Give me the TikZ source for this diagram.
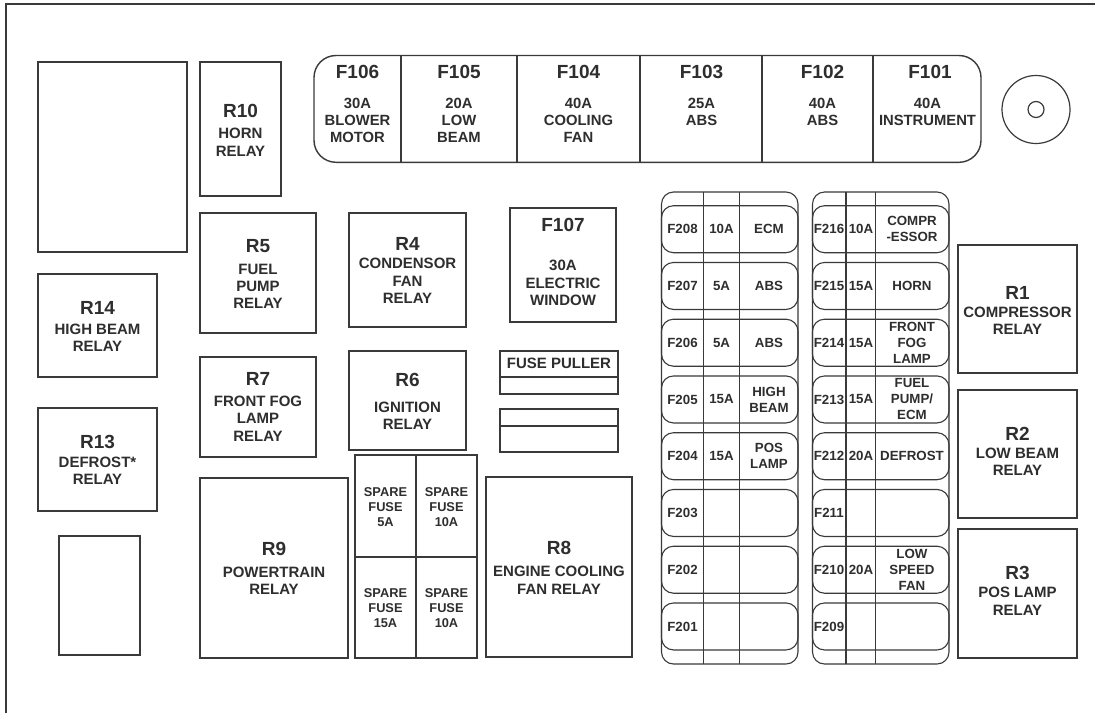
\documentclass[tikz,border=0pt]{standalone}
\usepackage{fontspec}
\setmainfont{Liberation Sans}
\definecolor{lc}{HTML}{3A3A3A}
\definecolor{tc}{HTML}{2E2E2E}
\newcommand\relaybox[9]{%
  \draw[box] (#2,#3) rectangle (#4,#5);
  \node[ttl] (#1t) at ({(#2+#4)/2},#7) {#6};
  \node[sub] (#1s) at ({(#2+#4)/2},#9) {#8};}
\begin{document}
\begin{tikzpicture}[x=1pt,y=-1pt,
  box/.style={draw=lc,line width=1.4pt},
  thinln/.style={draw=lc,line width=1.1pt},
  ttl/.style={inner sep=0pt,text=tc,font=\bfseries\fontsize{19}{19}\selectfont},
  sub/.style={inner sep=0pt,text=tc,align=center,font=\bfseries\fontsize{15}{17.3}\selectfont},
  fsub/.style={inner sep=0pt,text=tc,align=center,font=\bfseries\fontsize{14.8}{17}\selectfont},
  fb/.style={inner sep=0pt,text=tc,align=center,font=\bfseries\fontsize{13.3}{16}\selectfont},
  sp/.style={inner sep=0pt,text=tc,align=center,font=\bfseries\fontsize{12.8}{15}\selectfont}]
\useasboundingbox (0,0) rectangle (1095,713);
\fill[white] (0,0) rectangle (1095,713);
% outer border
\draw[draw=lc,line width=2.6pt] (6,713) -- (6,4) -- (1095,4);
% empty boxes
\draw[box] (38,62) rectangle (187,252);
\draw[box] (59,536) rectangle (140,655);
% relays
\relaybox{r10}{200}{62}{281}{196}{R10}{110.7}{HORN\\RELAY}{142.2}
\relaybox{r5}{200}{213}{316}{333}{R5}{245.7}{FUEL\\PUMP\\RELAY}{286.3}
\relaybox{r14}{38}{274}{157}{377}{R14}{307.7}{HIGH BEAM\\RELAY}{337.7}
\relaybox{r7}{200}{357}{316}{457}{R7}{379.3}{FRONT FOG\\LAMP\\RELAY}{418.5}
\relaybox{r13}{38}{408}{157}{511}{R13}{442.3}{DEFROST*\\RELAY}{471}
\relaybox{r9}{200}{478}{348}{658}{R9}{549.3}{POWERTRAIN\\RELAY}{581}
\relaybox{r8}{486}{477}{632}{657}{R8}{548.3}{ENGINE COOLING\\FAN RELAY}{580.2}
\relaybox{r4}{349}{213}{466}{327}{R4}{243.7}{CONDENSOR\\FAN\\RELAY}{280.8}
\relaybox{r6}{349}{351}{466}{450}{R6}{380}{IGNITION\\RELAY}{415.8}
\relaybox{f107}{510}{208}{616}{322}{F107}{225}{30A\\ELECTRIC\\WINDOW}{283}
\relaybox{r1}{958}{245}{1077}{373}{R1}{293.3}{COMPRESSOR\\RELAY}{320.7}
\relaybox{r2}{958}{390}{1077}{518}{R2}{434}{LOW BEAM\\RELAY}{462}
\relaybox{r3}{958}{529}{1077}{658}{R3}{573.3}{POS LAMP\\RELAY}{601.3}
% fuse puller
\draw[box] (500,351) rectangle (618,394);
\draw[box] (500,377) -- (618,377);
\node[sub] (puller) at (559,363) {FUSE PULLER};
\draw[box] (500,409) rectangle (618,452);
\draw[box] (500,426) -- (618,426);
% spare fuses
\draw[box] (355,455) rectangle (477,658);
\draw[box] (416,455) -- (416,658);
\draw[box] (355,557) -- (477,557);
\node[sp] (sp1) at (385.5,506.7) {SPARE\\FUSE\\5A};
\node[sp] (sp2) at (446.5,506.7) {SPARE\\FUSE\\10A};
\node[sp] (sp3) at (385.5,607.7) {SPARE\\FUSE\\15A};
\node[sp] (sp4) at (446.5,607.7) {SPARE\\FUSE\\10A};
% top fuse strip
\draw[box,rounded corners=22pt] (314,55.5) rectangle (981,162.3);
\foreach \x in {401,517,640,762,873} \draw[box] (\x,55.5) -- (\x,162.3);
\node[ttl] (f106) at (357.5,71.7) {F106};
\node[ttl] (f105) at (459,71.7) {F105};
\node[ttl] (f104) at (578.5,71.7) {F104};
\node[ttl] (f103) at (701.5,71.7) {F103};
\node[ttl] (f102) at (822.5,71.7) {F102};
\node[ttl] (f101) at (930,71.7) {F101};
\node[fsub] (f106s) at (357.5,120.8) {30A\\BLOWER\\MOTOR};
\node[fsub] (f105s) at (459,120.8) {20A\\LOW\\BEAM};
\node[fsub] (f104s) at (578.5,120.8) {40A\\COOLING\\FAN};
\node[fsub] (f103s) at (701.5,112.3) {25A\\ABS};
\node[fsub] (f102s) at (822.5,112.3) {40A\\ABS};
\node[fsub] (f101s) at (927.5,112.3) {40A\\INSTRUMENT};
% bolt
\node[circle,draw=lc,line width=1.2pt,minimum size=68pt,inner sep=0pt] (bolt) at (1036,109.5) {};
\node[circle,draw=lc,line width=1.2pt,minimum size=16pt,inner sep=0pt] (boltc) at (bolt.center) {};
% fuse blocks
\draw[thinln,rounded corners=12pt] (661.5,192) rectangle (798,664);
\draw[thinln,rounded corners=12pt] (812.5,192) rectangle (949,664);
\foreach \i in {0,...,7} {
  \draw[thinln,rounded corners=12pt] (661.5,{205.7+56.75*\i}) rectangle (798,{252.7+56.75*\i});
  \draw[thinln,rounded corners=12pt] (812.5,{205.7+56.75*\i}) rectangle (949,{252.7+56.75*\i});
}
\foreach \x in {703.5,739.5,846,875.5} \draw[thinln] (\x,192) -- (\x,664);
% left block texts
\node[fb] (a208) at (682.5,229.2) {F208};
\node[fb] (b208) at (721.5,229.2) {10A};
\node[fb] (c208) at (769,229.2) {ECM};
\node[fb] (a207) at (682.5,285.95) {F207};
\node[fb] (b207) at (721.5,285.95) {5A};
\node[fb] (c207) at (769,285.95) {ABS};
\node[fb] (a206) at (682.5,342.7) {F206};
\node[fb] (b206) at (721.5,342.7) {5A};
\node[fb] (c206) at (769,342.7) {ABS};
\node[fb] (a205) at (682.5,399.45) {F205};
\node[fb] (b205) at (721.5,399.45) {15A};
\node[fb] (c205) at (769,399.45) {HIGH\\BEAM};
\node[fb] (a204) at (682.5,456.2) {F204};
\node[fb] (b204) at (721.5,456.2) {15A};
\node[fb] (c204) at (769,456.2) {POS\\LAMP};
\node[fb] (a203) at (682.5,512.95) {F203};
\node[fb] (a202) at (682.5,569.7) {F202};
\node[fb] (a201) at (682.5,626.45) {F201};
% right block texts
\node[fb] (a216) at (829,229.2) {F216};
\node[fb] (b216) at (861,229.2) {10A};
\node[fb] (c216) at (912,229.2) {COMPR\\-ESSOR};
\node[fb] (a215) at (829,285.95) {F215};
\node[fb] (b215) at (861,285.95) {15A};
\node[fb] (c215) at (912,285.95) {HORN};
\node[fb] (a214) at (829,342.7) {F214};
\node[fb] (b214) at (861,342.7) {15A};
\node[fb] (c214) at (912,342.7) {FRONT\\FOG\\LAMP};
\node[fb] (a213) at (829,399.45) {F213};
\node[fb] (b213) at (861,399.45) {15A};
\node[fb] (c213) at (912,399.45) {FUEL\\PUMP/\\ECM};
\node[fb] (a212) at (829,456.2) {F212};
\node[fb] (b212) at (861,456.2) {20A};
\node[fb] (c212) at (912,456.2) {DEFROST};
\node[fb] (a211) at (829,512.95) {F211};
\node[fb] (a210) at (829,569.7) {F210};
\node[fb] (b210) at (861,569.7) {20A};
\node[fb] (c210) at (912,569.7) {LOW\\SPEED\\FAN};
\node[fb] (a209) at (829,626.45) {F209};
\end{tikzpicture}
\end{document}
